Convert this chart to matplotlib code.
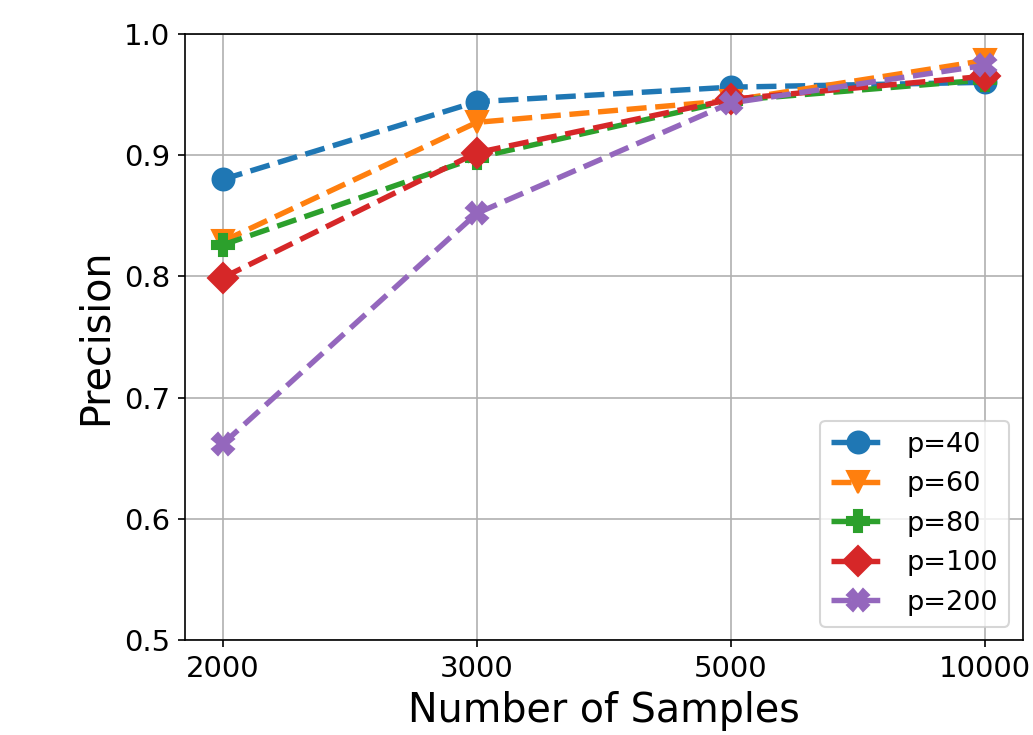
import matplotlib
matplotlib.use("Agg")
import matplotlib.pyplot as plt

samples = ['2000', '3000', '5000', '10000']
p40 = [0.880, 0.944, 0.956, 0.960]
p60 = [0.829, 0.927, 0.945, 0.978]
p80 = [0.826, 0.898, 0.945, 0.962]
p100 = [0.799, 0.902, 0.946, 0.965]
p200 = [0.662, 0.852, 0.943, 0.974]

series = [
    (p40, 'o', 'p=40'),
    (p60, 'v', 'p=60'),
    (p80, 'P', 'p=80'),
    (p100, 'D', 'p=100'),
    (p200, 'X', 'p=200'),
]

fig = plt.figure(figsize=(1033 / 150, 735 / 150), dpi=150)
ax = fig.add_subplot(111)
fig.subplots_adjust(left=0.179, right=0.990, top=0.954, bottom=0.129)

x = range(len(samples))
for vals, mk, lab in series:
    ax.plot(x, vals, linestyle='--', marker=mk, linewidth=2.6, markersize=10.5, label=lab)

ax.set_xticks(list(x))
ax.set_xticklabels(samples)
ax.set_ylim(0.5, 1.0)
ax.tick_params(labelsize=14)
ax.grid(True)
ax.set_xlabel("Number of Samples", fontsize=19)
ax.set_ylabel("Precision", fontsize=19)
ax.legend(loc='lower right', fontsize=13)

fig.savefig("out.png", dpi=150)
